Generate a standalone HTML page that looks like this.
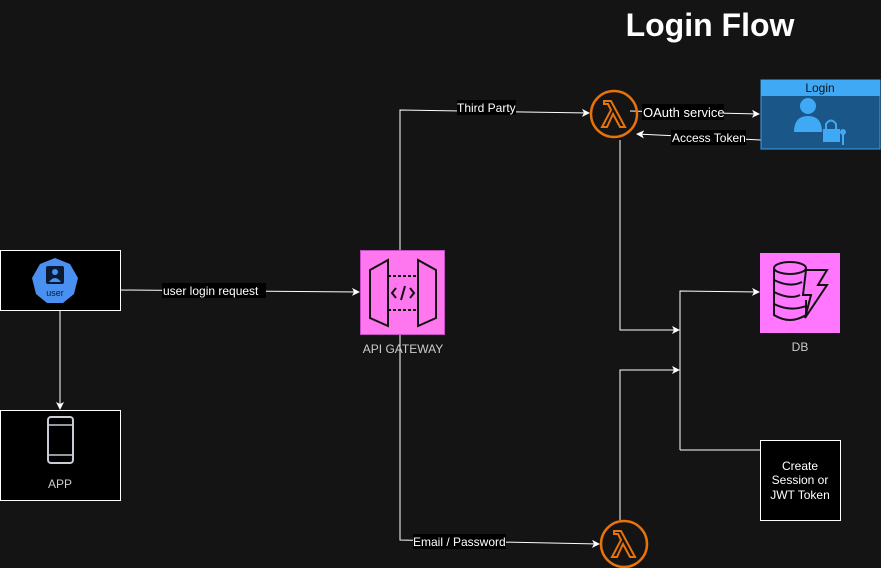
<!DOCTYPE html>
<html><head><meta charset="utf-8"><style>
html,body{margin:0;padding:0;background:#141414;}
svg{display:block;font-family:"Liberation Sans",sans-serif;}
</style></head><body>
<svg width="881" height="568" viewBox="0 0 881 568" xmlns="http://www.w3.org/2000/svg">
<defs>
<marker id="a" markerWidth="8" markerHeight="8" refX="7" refY="4" orient="auto" markerUnits="userSpaceOnUse"><path d="M0,0 L8,4 L0,8 L2,4 Z" fill="#fff"/></marker>
<g id="lam"><circle r="23" fill="none" stroke="#E8720C" stroke-width="2.5"/>
<path d="M-10,-13 L-3,-13 L11,13 L6,13 L-1,0 L-7,13 L-12,13 L-3,-4 L-6,-10 L-10,-10 Z" fill="none" stroke="#E8720C" stroke-width="2"/></g>
</defs>
<rect width="881" height="568" fill="#141414"/>
<text x="710" y="36" text-anchor="middle" font-size="32" font-weight="bold" fill="#fff">Login Flow</text>

<!-- connectors -->
<g stroke="#fff" stroke-width="1" fill="none">
<path d="M120,290 L359,292" marker-end="url(#a)"/>
<path d="M60,303 L60,409" marker-end="url(#a)"/>
<path d="M400,250 L400,110 L589,113" marker-end="url(#a)"/>
<path d="M400,335 L400,540 L599,544" marker-end="url(#a)"/>
<path d="M630,111 L759,114" marker-end="url(#a)"/>
<path d="M761,140 L637,134" marker-end="url(#a)"/>
<path d="M620,140 L620,330 L679,330" marker-end="url(#a)"/>
<path d="M620,520 L620,370 L679,370" marker-end="url(#a)"/>
<path d="M680,450 L680,291 L759,292" marker-end="url(#a)"/>
<path d="M680,450 L769,450" marker-end="url(#a)"/>
</g>

<!-- labels -->
<g font-size="12" fill="#fff">
<rect x="162" y="283" width="104" height="15" fill="#000"/><text x="163" y="295">user login request</text>
<rect x="457" y="100" width="59" height="15" fill="#000"/><text x="457" y="112">Third Party</text>
<rect x="413" y="534" width="93" height="15" fill="#000"/><text x="413" y="546">Email / Password</text>
<rect x="642" y="104" width="82" height="16" fill="#000"/><text x="643" y="117" font-size="13">OAuth service</text>
<rect x="671" y="130" width="75" height="15" fill="#000"/><text x="672" y="142">Access Token</text>
</g>

<!-- user box -->
<rect x="0.5" y="250.5" width="120" height="60" fill="#000" stroke="#fff"/>
<polygon points="55,258 70,264 78,278 74,294 63,303 47,303 36,294 32,278 40,264" fill="#4A90F0"/>
<rect x="46" y="266" width="18" height="18" rx="2" fill="#0b1a33"/>
<circle cx="55" cy="272" r="3" fill="#4A90F0"/><path d="M49,282 Q55,274 61,282 Z" fill="#4A90F0"/>
<text x="55" y="296" text-anchor="middle" font-size="9" fill="#0b1a33">user</text>

<!-- app box -->
<rect x="0.5" y="410.5" width="120" height="90" fill="#000" stroke="#fff"/>
<rect x="48" y="417" width="25" height="46" rx="3" fill="none" stroke="#c8ccd4" stroke-width="2"/>
<line x1="48" y1="425" x2="73" y2="425" stroke="#c8ccd4" stroke-width="1.5"/>
<line x1="48" y1="455" x2="73" y2="455" stroke="#c8ccd4" stroke-width="1.5"/>
<text x="60" y="488" text-anchor="middle" font-size="12" fill="#ccc">APP</text>

<!-- api gateway -->
<rect x="360.5" y="250.5" width="84" height="84" fill="#FF77EE" stroke="#c050c0"/>
<g fill="none" stroke="#111" stroke-width="2">
<path d="M370,270 L388,260 L388,326 L370,318 Z"/>
<path d="M436,270 L418,260 L418,326 L436,318 Z"/>
<path d="M388,276 L418,276 M388,310 L418,310" stroke-dasharray="3,2"/>
<path d="M396,288 L392,293 L396,298 M410,288 L414,293 L410,298 M405,286 L401,300"/>
</g>
<text x="403" y="353" text-anchor="middle" font-size="12" fill="#ccc">API GATEWAY</text>

<!-- lambdas -->
<use href="#lam" x="614" y="114"/>
<use href="#lam" x="624" y="544"/>

<!-- login -->
<rect x="761" y="80" width="119" height="69" fill="#1A5687" stroke="#3aa0e8"/>
<rect x="761" y="80" width="119" height="16" fill="#3FA9F5"/>
<text x="820" y="92" text-anchor="middle" font-size="12" fill="#111">Login</text>
<circle cx="808" cy="106" r="8" fill="#3FA9F5"/>
<path d="M794,132 Q794,116 808,116 Q822,116 822,132 Z" fill="#3FA9F5"/>
<rect x="823" y="129" width="17" height="13" fill="#3FA9F5"/>
<path d="M826,129 L826,124 Q831,117 836,124 L836,129" fill="none" stroke="#3FA9F5" stroke-width="2"/>
<circle cx="843" cy="132" r="3" fill="#3FA9F5"/><rect x="842" y="134" width="2" height="11" fill="#3FA9F5"/>

<!-- DB -->
<rect x="760" y="253" width="80" height="80" fill="#FF77FF"/>
<g fill="none" stroke="#111" stroke-width="2">
<ellipse cx="790" cy="268" rx="16" ry="6"/>
<path d="M774,268 L774,315 Q790,325 806,315 L806,300 M774,280 Q790,288 802,282 M774,292 Q790,300 800,295 M774,304 Q790,312 806,306"/>
<path d="M806,270 L827,270 L818,285 L827,285 L805,318 L811,295 L803,295 Z"/>
</g>
<text x="800" y="351" text-anchor="middle" font-size="12" fill="#ccc">DB</text>

<!-- create session -->
<rect x="760.5" y="440.5" width="80" height="80" fill="#000" stroke="#fff"/>
<g font-size="12" fill="#fff" text-anchor="middle">
<text x="800" y="470">Create</text><text x="800" y="484">Session or</text><text x="800" y="499">JWT Token</text>
</g>
</svg>
</body></html>
